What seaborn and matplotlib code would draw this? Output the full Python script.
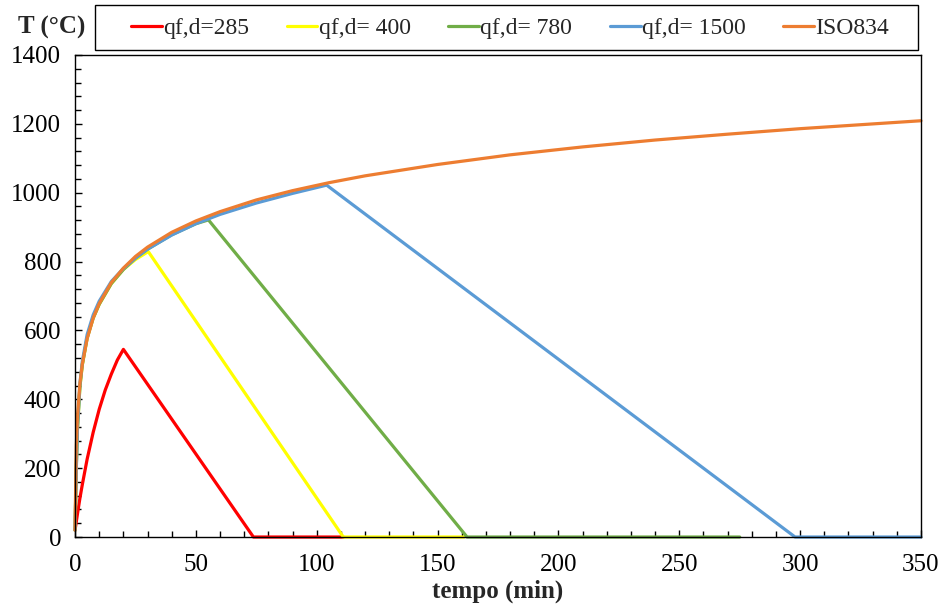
import matplotlib
matplotlib.use("Agg")
import matplotlib.pyplot as plt
from matplotlib.patches import Rectangle
from matplotlib.ticker import MultipleLocator
import pandas as pd
import seaborn as sns

# curve values (tempo in min, T in °C)
t_red = [0, 1, 2, 3, 5, 7.5, 10, 12.5, 15, 17.5, 20, 73.8, 111]
T_red = [20, 67, 112, 152, 226, 304, 371, 427, 473, 514, 545, 0, 0]

t_yellow = [0, 0.5, 1, 2, 3, 5, 7.5, 10, 15, 20, 25, 30.3, 111, 161]
T_yellow = [20, 200, 315, 435, 500, 578, 636, 676, 736, 777, 806, 829, 0, 0]

t_green = [0, 0.5, 1, 2, 3, 5, 7.5, 10, 15, 20, 25, 30, 40, 50, 55.2, 162.2, 275]
T_green = [20, 200, 315, 435, 500, 578, 636, 676, 736, 777, 810, 836, 878, 910, 921, 0, 0]

t_blue = [0, 0.5, 1, 2, 3, 5, 7.5, 10, 15, 20, 25, 30, 40, 50, 60, 75, 90, 104.1, 297.9, 350]
T_blue = [20, 190, 320, 445, 510, 588, 645, 685, 742, 780, 810, 836, 877, 910, 937, 970, 998, 1022, 0, 0]

t_iso = [0, 0.5, 1, 2, 3, 5, 7.5, 10, 15, 20, 25, 30, 40, 50, 60, 75, 90, 105, 120,
         150, 180, 210, 240, 270, 300, 350]
T_iso = [20, 261, 349, 445, 502, 576, 636, 678, 739, 781, 815, 842, 885, 918, 945,
         979, 1006, 1029, 1049, 1082, 1110, 1133, 1153, 1170, 1186, 1209]

series = [
    ("qf,d=285", t_red, T_red, "#FF0000"),
    ("qf,d= 400", t_yellow, T_yellow, "#FFFF00"),
    ("qf,d= 780", t_green, T_green, "#70AD47"),
    ("qf,d= 1500", t_blue, T_blue, "#5B9BD5"),
    ("ISO834", t_iso, T_iso, "#ED7D31"),
]

sns.set_style("white")
plt.rcParams['font.family'] = ['Liberation Serif', 'DejaVu Serif']

fig = plt.figure(figsize=(9.44, 6.09), dpi=100)
ax = fig.add_axes([0.0795, 0.1182, 0.8961, 0.7915])

for nome, t, T, cor in series:
    df = pd.DataFrame({'tempo': t, 'T': T})
    sns.lineplot(data=df, x='tempo', y='T', ax=ax, color=cor, lw=2.3,
                 sort=False, label=nome, clip_on=False)

ax.set_xlim(0, 350)
ax.set_ylim(0, 1400)
ax.xaxis.set_major_locator(MultipleLocator(50))
ax.xaxis.set_minor_locator(MultipleLocator(10))
ax.yaxis.set_major_locator(MultipleLocator(200))
ax.yaxis.set_minor_locator(MultipleLocator(40))
ax.tick_params(which='both', direction='in', colors='black', labelsize=18,
               left=True, bottom=True, top=False, right=False)
ax.tick_params(which='major', length=5, width=1)
ax.tick_params(which='minor', length=4, width=1)
ax.tick_params(axis='x', pad=12)
ax.tick_params(axis='y', pad=10)
for s in ax.spines.values():
    s.set_color('black')
    s.set_linewidth(1)

ax.set_xlabel('tempo (min)', fontsize=18, fontweight='bold', labelpad=3)
ax.set_ylabel('')
fig.text(0.055, 0.955, 'T (°C)', fontsize=18, fontweight='bold', ha='center', va='center')

# legend box drawn separately, entries centred inside it
fig.patches.append(Rectangle((95 / 944, 1 - 50 / 609), 823 / 944, 45 / 609,
                             transform=fig.transFigure, fill=False,
                             edgecolor='black', lw=1))
leg = ax.legend(loc='center', bbox_to_anchor=(510 / 944, 1 - 28 / 609),
                bbox_transform=fig.transFigure, ncol=5, fontsize=17,
                frameon=False, handlelength=1.3, handletextpad=0.05,
                columnspacing=1.6, borderaxespad=0)

fig.savefig('out.png', dpi=100)
